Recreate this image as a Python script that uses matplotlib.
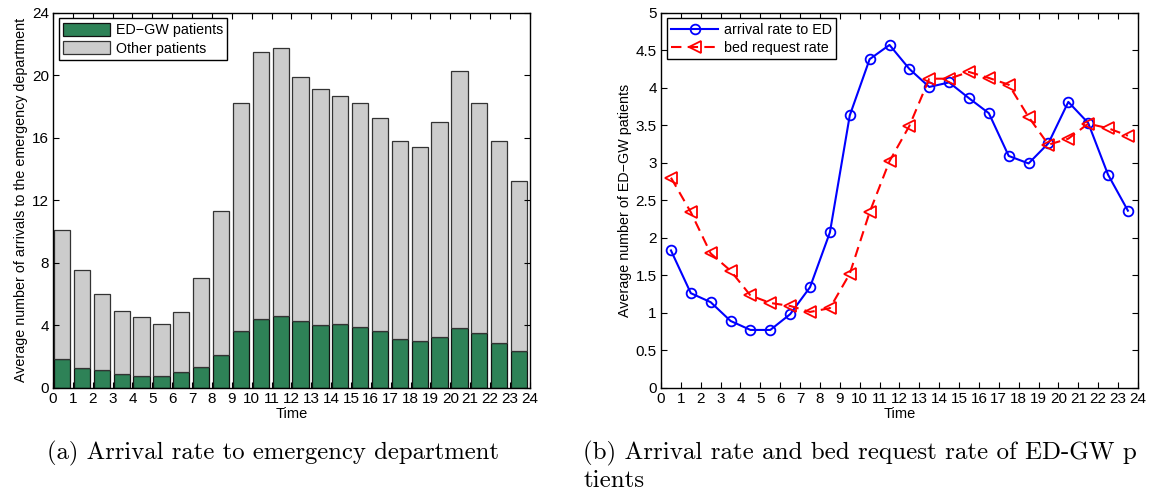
import numpy as np
import matplotlib.pyplot as plt

# hourly data (hour index 0..23)
hours = np.arange(24)
total_arrivals = [10.07, 7.53, 6.0, 4.93, 4.5, 4.1, 4.86, 7.0, 11.29, 18.2, 21.46, 21.74,
                  19.86, 19.14, 18.7, 18.2, 17.24, 15.77, 15.42, 17.02, 20.27, 18.2, 15.77, 13.23]
edgw_arrivals = [1.83, 1.26, 1.14, 0.89, 0.77, 0.77, 0.98, 1.34, 2.07, 3.63, 4.38, 4.57,
                 4.25, 4.01, 4.07, 3.86, 3.66, 3.09, 2.99, 3.26, 3.81, 3.53, 2.84, 2.36]
bed_requests = [2.80, 2.34, 1.79, 1.56, 1.23, 1.13, 1.09, 1.01, 1.06, 1.52, 2.34, 3.02,
                3.49, 4.12, 4.12, 4.21, 4.13, 4.04, 3.61, 3.24, 3.32, 3.52, 3.46, 3.36]

other_arrivals = np.array(total_arrivals) - np.array(edgw_arrivals)

plt.rcParams['font.family'] = ['Liberation Sans', 'DejaVu Sans']
plt.rcParams['font.size'] = 10

fig = plt.figure(figsize=(11.49, 4.9), dpi=100)

# (a) stacked bars
ax1 = fig.add_axes([0.0461, 0.2088, 0.415, 0.7653])
ax1.bar(hours + 0.05, edgw_arrivals, width=0.82, align='edge', color='#2e8257',
        edgecolor='#111111', linewidth=0.9, label='ED\u2212GW patients')
ax1.bar(hours + 0.05, other_arrivals, width=0.82, align='edge', bottom=edgw_arrivals,
        color='#cccccc', edgecolor='#333333', linewidth=0.9, label='Other patients')
ax1.set_xlim(0, 24)
ax1.set_ylim(0, 24)
ax1.set_xticks(range(0, 25))
ax1.set_yticks(range(0, 25, 4))
ax1.set_xlabel('Time', fontsize=10.5, labelpad=1)
ax1.set_ylabel('Average number of arrivals to the emergency department', fontsize=10.3, labelpad=3)
ax1.legend(loc='upper left', fancybox=False, edgecolor='black', framealpha=1,
           handlelength=3.3, handleheight=1.0, borderpad=0.3, labelspacing=0.3,
           handletextpad=0.4, fontsize=10.3, borderaxespad=0.4)

# (b) lines
ax2 = fig.add_axes([0.5753, 0.2088, 0.415, 0.7653])
ax2.plot(hours + 0.5, edgw_arrivals, '-o', color='blue', linewidth=1.5,
         markersize=7, markerfacecolor='none', markeredgewidth=1.3, label='arrival rate to ED')
ax2.plot(hours + 0.5, bed_requests, '--<', color='red', linewidth=1.5, dashes=(5, 3),
         markersize=8, markerfacecolor='none', markeredgewidth=1.3, label='bed request rate')
ax2.set_xlim(0, 24)
ax2.set_ylim(0, 5)
ax2.set_xticks(range(0, 25))
ax2.set_yticks(np.arange(0, 5.01, 0.5))
ax2.set_yticklabels(['0', '0.5', '1', '1.5', '2', '2.5', '3', '3.5', '4', '4.5', '5'])
ax2.set_xlabel('Time', fontsize=10.5, labelpad=1)
ax2.set_ylabel('Average number of ED\u2212GW patients', fontsize=10.3, labelpad=3)
ax2.legend(loc='upper left', fancybox=False, edgecolor='black', framealpha=1,
           handlelength=3.3, borderpad=0.3, labelspacing=0.3,
           handletextpad=0.4, fontsize=10.3, borderaxespad=0.4)

for ax in (ax1, ax2):
    ax.tick_params(direction='in', top=True, right=True, length=4, labelsize=11, pad=3)
    for s in ax.spines.values():
        s.set_linewidth(1.0)

# captions
fig.text(0.041, 0.0633, '(a) Arrival rate to emergency department',
         family='cmr10', fontsize=17.8, va='baseline')
fig.text(0.5075, 0.0633, '(b) Arrival rate and bed request rate of ED-GW p',
         family='cmr10', fontsize=18, va='baseline')
fig.text(0.5075, 0.006, 'tients', family='cmr10', fontsize=18, va='baseline')

fig.savefig('out.png', dpi=100)
